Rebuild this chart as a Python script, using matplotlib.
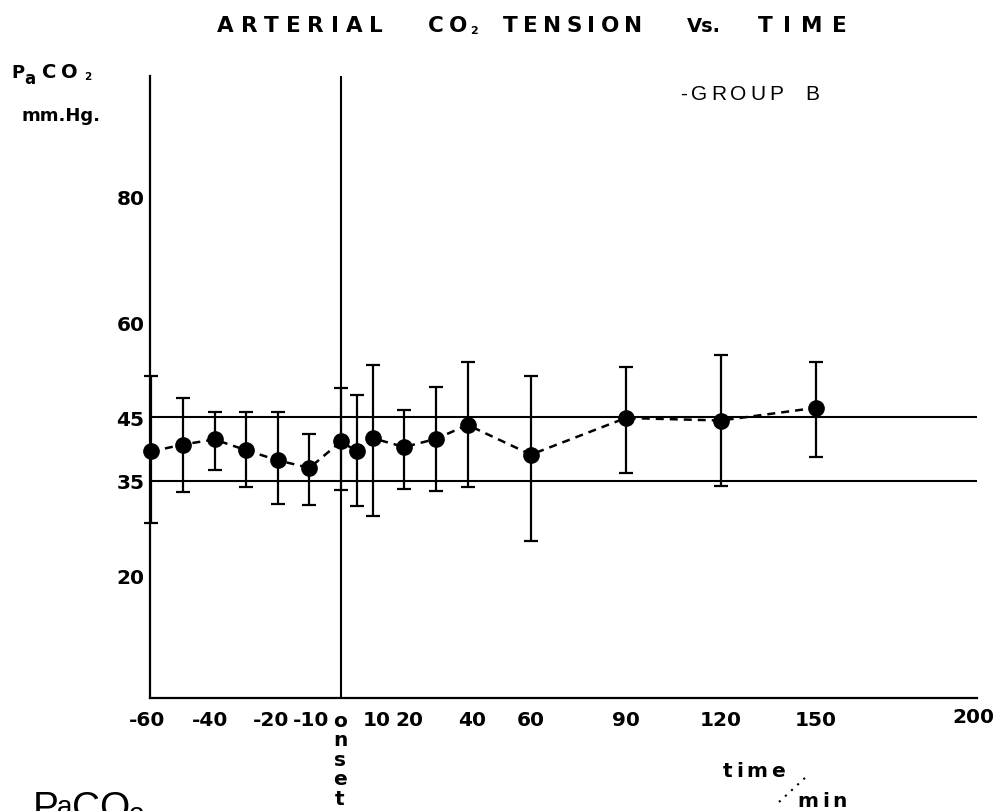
import matplotlib
matplotlib.use("Agg")
import matplotlib.pyplot as plt
from matplotlib.textpath import TextToPath
from matplotlib.font_manager import FontProperties
from matplotlib.lines import Line2D
from matplotlib.transforms import ScaledTranslation

# ---------------- data ----------------
times = [-60, -50, -40, -30, -20, -10, 0, 5, 10, 20, 30, 40, 60, 90, 120, 150]
paco2_mean = [39.6, 40.7, 41.5, 39.8, 38.2, 37.0, 41.2, 39.6, 41.7, 40.3, 41.6, 43.8, 39.1, 44.9, 44.5, 46.5]
paco2_upper = [51.5, 48.0, 45.9, 45.9, 45.9, 42.4, 49.6, 48.5, 53.3, 46.2, 49.8, 53.7, 51.5, 52.9, 54.9, 53.8]
paco2_lower = [28.3, 33.2, 36.6, 34.0, 31.3, 31.1, 33.5, 30.9, 29.4, 33.6, 33.3, 34.0, 25.4, 36.2, 34.1, 38.7]
normal_range = [35, 45]
onset_time = 0
x_ticks = [-60, -40, -20, -10, 10, 20, 40, 60, 90, 120, 150, 200]
x_tick_labels = ['-60', '-40', '-20', '-10', '10', '20', '40', '60', '90', '120', '150', '200']
y_ticks = [20, 35, 45, 60, 80]
y_tick_labels = ['20', '35', '45', '60', '80']

# ---------------- figure ----------------
W, H, DPI = 1003, 812, 100
fig = plt.figure(figsize=(W / DPI, H / DPI), dpi=DPI)
BOLDFAM = 'DejaVu Sans'
REGFAM = 'Liberation Sans'

def fx(px):
    return px / W

def fy(py):
    return 1 - py / H

ax_left, ax_right, ax_top, ax_bottom = 150, 977, 77, 699
ax = fig.add_axes([fx(ax_left), fy(ax_bottom), (ax_right - ax_left) / W, (ax_bottom - ax_top) / H])
ax.set_xlim(-60.4, 201)
ax.set_ylim(0.6, 99)

for s in ['top', 'right']:
    ax.spines[s].set_visible(False)
for s in ['left', 'bottom']:
    ax.spines[s].set_linewidth(1.6)
    ax.spines[s].set_color('black')

# normal range lines and onset line
for v in normal_range:
    ax.axhline(v, color='black', lw=1.5, zorder=1)
ax.axvline(onset_time, color='black', lw=1.5, zorder=1)

# error bars + points
yerr = [[m - l for m, l in zip(paco2_mean, paco2_lower)],
        [u - m for m, u in zip(paco2_mean, paco2_upper)]]
cont = ax.errorbar(times, paco2_mean, yerr=yerr, fmt='none', ecolor='black',
                   elinewidth=1.6, capsize=5, capthick=1.6, zorder=3)
for art in cont.lines[1] + cont.lines[2]:
    art.set_clip_on(False)
ax.plot(times, paco2_mean, color='black', lw=1.8, linestyle=(0, (3.2, 2.4)),
        zorder=2, clip_on=False)
ax.plot(times, paco2_mean, 'o', color='black', markersize=11, zorder=4, clip_on=False)

# ticks
ax.set_xticks(x_ticks)
ax.set_xticklabels(x_tick_labels, fontfamily=BOLDFAM, fontweight='bold', fontsize=14.5)
ax.set_yticks(y_ticks)
ax.set_yticklabels(y_tick_labels, fontfamily=BOLDFAM, fontweight='bold', fontsize=14.5)
ax.tick_params(axis='x', length=0, pad=9)
ax.tick_params(axis='y', length=0, pad=4)

# small hand-placement nudges of crowded labels (pixels)
label_nudge = {'-60': (-4, 0), '-40': (-4, 0), '-20': (-7, 0), '-10': (2, 0),
               '10': (4, 0), '20': (5, 0), '40': (4, 0), '200': (0, 3)}
for lab in ax.get_xticklabels():
    dx, dy = label_nudge.get(lab.get_text(), (0, 0))
    lab.set_transform(lab.get_transform() + ScaledTranslation(dx / DPI, dy / DPI, fig.dpi_scale_trans))

# "onset" written vertically under 0
for i, ch in enumerate('onset'):
    fig.text(fx(340), fy(727 + 19.5 * i), ch, ha='center', va='baseline',
             fontfamily=BOLDFAM, fontweight='bold', fontsize=14.5)

# ---------------- letter-spaced text helper ----------------
ttp = TextToPath()

def spaced(text, x0, x1, ybase, size, weight='bold', family=BOLDFAM):
    fp = FontProperties(family=family, size=size, weight=weight)
    widths = [ttp.get_text_width_height_descent(c, fp, ismath=False)[0] * DPI / 72 for c in text]
    n = len(text)
    track = (x1 - x0 - sum(widths)) / (n - 1) if n > 1 else 0
    x = x0
    for c, w in zip(text, widths):
        fig.text(fx(x), fy(ybase), c, fontproperties=fp, ha='left', va='baseline')
        x += w + track

def txt(s, x, ybase, size, weight='bold', ha='left', family=BOLDFAM):
    fig.text(fx(x), fy(ybase), s, ha=ha, va='baseline', fontfamily=family,
             fontweight=weight, fontsize=size)

# title
spaced('ARTERIAL', 217, 383, 32, 15.5)
spaced('CO', 428, 467, 32, 15.5)
txt('2', 470, 34, 8)
spaced('TENSION', 503, 642, 32, 15.5)
txt('Vs.', 687, 32, 14)
spaced('TIME', 758, 847, 32, 15.5)

# y-axis label
txt('P', 11, 78, 13)
txt('a', 24, 84, 12)
txt('C', 42, 78, 14)
txt('O', 61, 78, 14)
txt('2', 84, 80, 7.5)
txt('mm.Hg.', 22, 121, 13)

# group label
spaced('-GROUP', 680, 783, 100, 15, weight='normal', family=REGFAM)
txt('B', 805, 100, 15, weight='normal', family=REGFAM)

# time / min
spaced('time', 723, 785, 777, 14.5)
spaced('min', 797, 847, 807, 14.5)
fig.add_artist(Line2D([fx(779), fx(807)], [fy(803), fy(777)], transform=fig.transFigure,
                      color='black', lw=1.5, linestyle=(0, (1, 3))))

# big cut-off label at the bottom left
txt('P', 33, 819, 28, weight='normal', family=REGFAM)
txt('a', 57, 815, 20, weight='normal', family=REGFAM)
txt('CO', 72, 819, 28, weight='normal', family=REGFAM)
txt('2', 129, 826, 20, weight='normal', family=REGFAM)

fig.savefig('out.png', dpi=DPI, facecolor='white')
